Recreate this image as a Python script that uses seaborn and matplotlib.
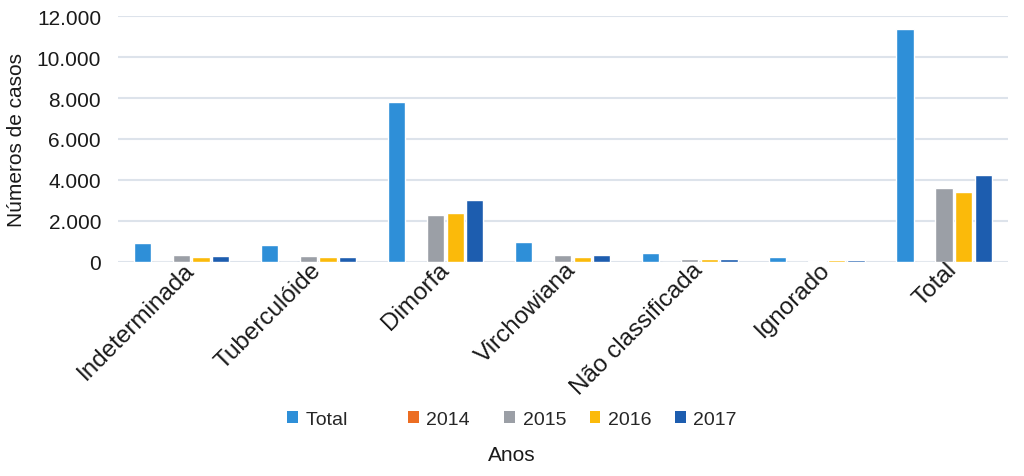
import matplotlib
matplotlib.use("Agg")
import matplotlib.pyplot as plt
import matplotlib.transforms as mtransforms
from matplotlib.ticker import FuncFormatter
from matplotlib.patches import Patch
import seaborn as sns
import pandas as pd

categories = ["Indeterminada", "Tuberculóide", "Dimorfa", "Virchowiana",
              "Não classificada", "Ignorado", "Total"]
series_names = ["Total", "2014", "2015", "2016", "2017"]
vals_total = [940, 820, 7800, 960, 420, 240, 11370]
vals_2014 = [0, 0, 0, 0, 0, 0, 0]
vals_2015 = [330, 300, 2290, 310, 160, 40, 3600]
vals_2016 = [220, 220, 2390, 240, 120, 70, 3430]
vals_2017 = [300, 230, 3040, 310, 120, 70, 4260]
colors = ["#2E8FD8", "#EC6D22", "#9B9FA6", "#FBBA0A", "#1D5DAF"]

series_vals = [vals_total, vals_2014, vals_2015, vals_2016, vals_2017]
rows = []
for name, vals in zip(series_names, series_vals):
    for cat, v in zip(categories, vals):
        rows.append({"Categoria": cat, "Ano": name, "Casos": v})
df = pd.DataFrame(rows)

sns.set_theme(style="white")
plt.rcParams["font.family"] = ["Liberation Sans", "DejaVu Sans"]

fig = plt.figure(figsize=(10.24, 4.77), dpi=100)
ax = fig.add_axes([0.115, 0.449, 0.869, 0.515])

sns.barplot(data=df, x="Categoria", y="Casos", hue="Ano", order=categories,
            hue_order=series_names, palette=colors, width=0.77, gap=0.12,
            ax=ax, legend=False, saturation=1)

ax.set_ylim(0, 12000)
ax.set_yticks(range(0, 12001, 2000))
ax.yaxis.set_major_formatter(FuncFormatter(lambda x, p: f"{x:,.0f}".replace(",", ".")))
ax.grid(axis="y", color="#DDE3EB", linewidth=1.5)
ax.set_axisbelow(True)
for s in ax.spines.values():
    s.set_visible(False)
ax.tick_params(axis="both", length=0)
ax.tick_params(axis="y", pad=12, labelsize=15, colors="#1a1a1a")
ax.tick_params(axis="x", pad=3, labelsize=17.5, colors="#1a1a1a")
ax.set_xlim(-0.5, len(categories) - 0.5)

offset = mtransforms.ScaledTranslation(7 / 72, 0, fig.dpi_scale_trans)
for lab in ax.get_xticklabels():
    lab.set_rotation(45)
    lab.set_ha("right")
    lab.set_va("center")
    lab.set_rotation_mode("anchor")
    lab.set_transform(lab.get_transform() + offset)

ax.set_xlabel("")
ax.set_ylabel("Números de casos", fontsize=15, color="#1a1a1a", labelpad=8)

labels = ["Total       ", "2014  ", "2015", "2016", "2017"]
handles = [Patch(facecolor=c, edgecolor="none") for c in colors]
fig.legend(handles, labels, loc="center", bbox_to_anchor=(0.5, 0.119), ncol=5,
           frameon=False, fontsize=14, handlelength=0.55, handleheight=0.55,
           handletextpad=0.4, columnspacing=1.2)
fig.text(0.5, 0.046, "Anos", ha="center", va="center", fontsize=15, color="#1a1a1a")

fig.savefig("out.png", dpi=100)
